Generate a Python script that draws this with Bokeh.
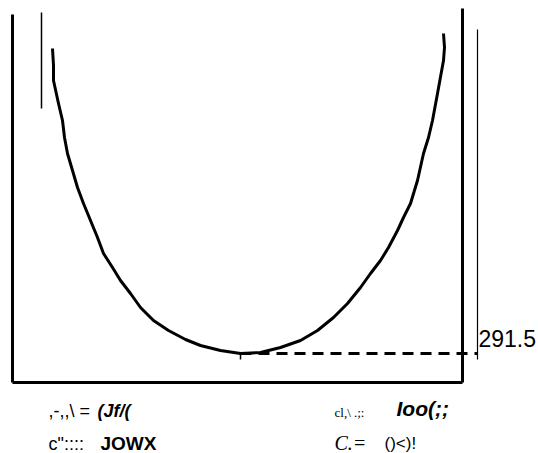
from bokeh.plotting import figure
from bokeh.models import Range1d
from bokeh.core.properties import value
from bokeh.embed import file_html
from bokeh.resources import INLINE

# ---- data (arbitrary units) ----
curve_x = [40, 41, 41, 46, 50, 52, 55, 60, 65, 71, 78, 85, 91, 100, 108,
           118, 128, 141, 156, 173, 188, 208, 228, 248, 268, 288, 305, 321,
           335, 348, 358, 368, 376, 385, 391, 398, 405, 411, 416, 420, 425,
           431, 432, 431]
curve_y = [596.5, 579.5, 564.5, 541.5, 524.5, 507.5, 491.5, 474.5, 457.5,
           441.5, 424.5, 407.5, 391.5, 377.5, 364.5, 351.5, 337.5, 324.5,
           314.5, 305.5, 299.5, 294.5, 291.5, 292.5, 297.5, 304.5, 314.5,
           327.5, 341.5, 357.5, 371.5, 384.5, 397.5, 414.5, 427.5, 441.5,
           464.5, 491.5, 507.5, 524.5, 551.5, 584.5, 597.5, 611.5]

# frame and guide extents (data units)
frame_left, frame_right, frame_bottom = 0, 450, 262.5
left_top, right_top = 630.5, 636.5
inner_x, inner_y = 29, (536.5, 632.5)
ref_x, ref_y = 465, (285.5, 615.5)

# bottom annotations (as printed)
row1_left = [",-,,\\ =", "(Jf/("]
row2_left = ["c\"::::", "JOWX"]
row1_right = ["cl,\\   .;:", "Ioo(;;"]
row2_right = ["C.=", "()<)!"]

ymin = min(curve_y)
xmin = curve_x[curve_y.index(ymin)]

p = figure(width=538, height=453, output_backend="svg", toolbar_location=None,
           x_range=Range1d(-12, 526), y_range=Range1d(191.5, 644.5),
           x_axis_type=None, y_axis_type=None, min_border=0)
p.outline_line_color = None
p.xgrid.visible = False
p.ygrid.visible = False
p.background_fill_color = "white"

# frame (open top)
p.segment(x0=[frame_left, frame_right, frame_left],
          y0=[left_top, right_top, frame_bottom],
          x1=[frame_left, frame_right, frame_right],
          y1=[frame_bottom, frame_bottom, frame_bottom],
          line_color="black", line_width=3)

# thin vertical lines
p.segment(x0=[inner_x], y0=[inner_y[0]], x1=[inner_x], y1=[inner_y[1]],
          line_color="black", line_width=1.5)
p.segment(x0=[ref_x], y0=[ref_y[0]], x1=[ref_x], y1=[ref_y[1]],
          line_color="black", line_width=1.2)

# curve
p.line(curve_x, curve_y, line_color="black", line_width=3, line_join="round")

# dashed line from minimum to reference line
p.line([xmin, ref_x], [ymin, ymin], line_color="black", line_width=3,
       line_dash="11 7")
# small tick at the minimum
p.segment(x0=[xmin], y0=[ymin + 1], x1=[xmin], y1=[ymin - 6],
          line_color="black", line_width=1.5)

def label(x, y, t, font="Liberation Sans", size="16px", style="normal"):
    p.text(x=[x], y=[y], text=[t], text_font=value(font),
           text_font_size=size, text_font_style=style, text_color="black",
           text_baseline="middle", text_align="left")

# value label
label(ref_x + 1, ymin + 15.5, f"{ymin:.1f}", size="23px")

label(36, 234, row1_left[0], size="18px")
label(85, 234, row1_left[1], size="18px", style="bold italic")
label(36, 201, row2_left[0], size="18px")
label(88, 201.5, row2_left[1], size="19px", style="bold")
label(322, 232.5, row1_right[0], font="Liberation Serif", size="13px")
label(384, 237, row1_right[1], size="21px", style="bold italic")
label(322, 202, row2_right[0], font="Liberation Serif", size="20px", style="italic")
label(372, 202, row2_right[1], size="17px")

open("out.html", "w").write(file_html(p, INLINE))
